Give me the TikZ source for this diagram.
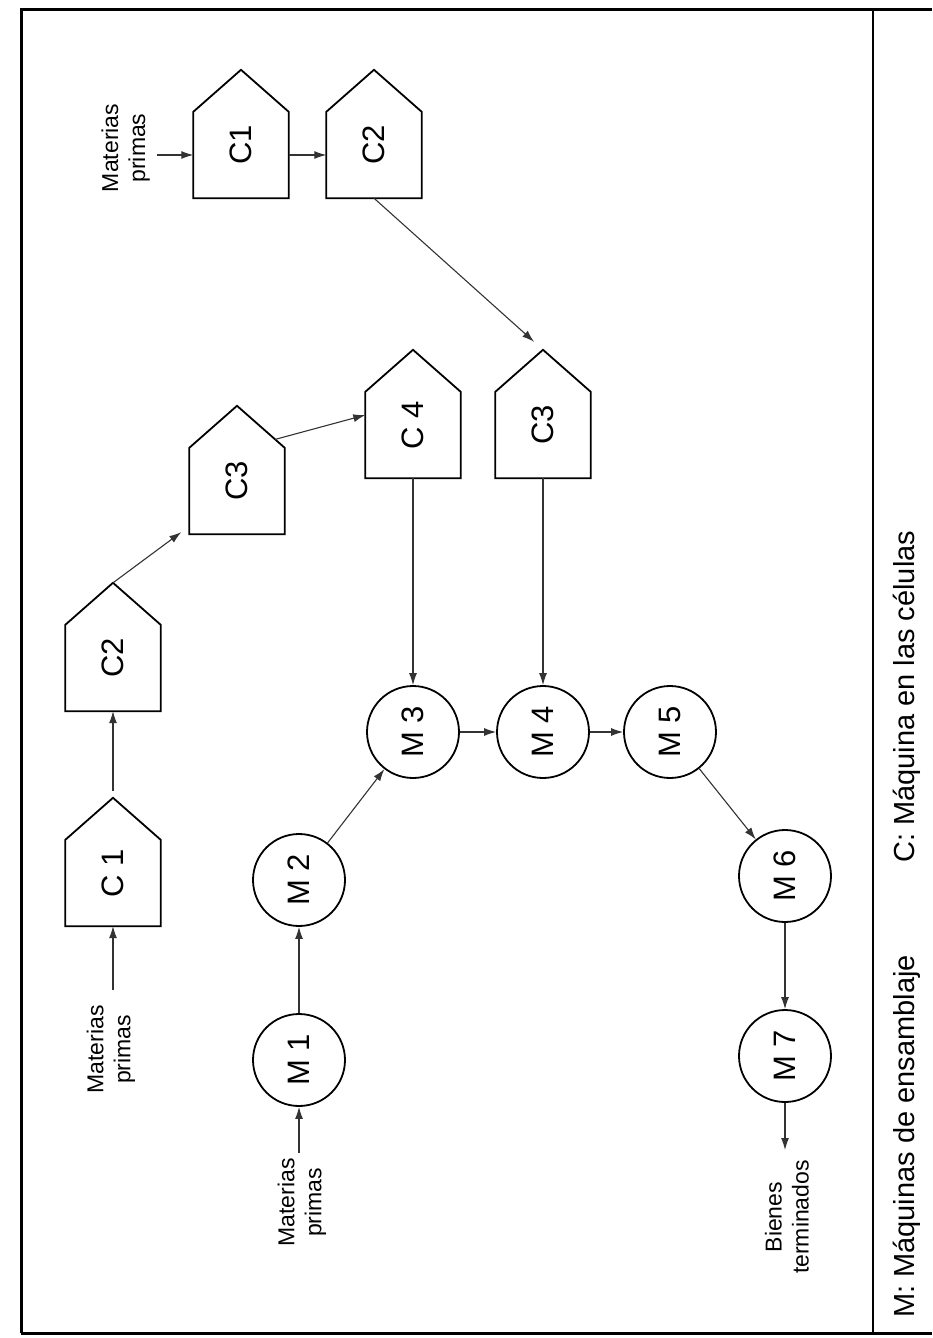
\documentclass[tikz,border=0pt]{standalone}
\usepackage{fontspec}
\setmainfont{Liberation Sans}
\usetikzlibrary{arrows.meta,calc}

\begin{document}
\begin{tikzpicture}[x=1pt, y=-1pt,
    cell/.style={rectangle, minimum width=95pt, minimum height=86pt, inner sep=0pt, text depth=20pt, font=\fontsize{31}{31}\selectfont},
    outline/.style={line width=1.8pt, line join=miter},
    mach/.style={circle, draw, line width=1.8pt, minimum size=92pt, inner sep=0pt, font=\fontsize{31}{31}\selectfont},
    lbl/.style={rotate=90, align=center, inner sep=0pt, font=\fontsize{23}{27}\selectfont},
    legend/.style={rotate=90, anchor=west, inner sep=0pt, font=\fontsize{29}{29}\selectfont},
    frame/.style={line width=3pt},
    arrow/.style={-{Latex[length=12pt,width=8pt]}, line width=1.1pt, draw=black!80}
]
\useasboundingbox (0,0) rectangle (932,1338);

% FRAME AND LEGEND COLUMN
\draw[frame] (21,1333) -- (21,10) -- (932,10);
\draw[frame] (21,1333) -- (932,1333);
\draw[line width=2.5pt] (873,10) -- (873,1333);

\node[legend] (leg-m) at (907,1318) {M: Máquinas de ensamblaje};
\node[legend] (leg-c) at (907,863) {C: Máquina en las células};

% CELL MACHINES
\node[cell] (c1t) at (241,155) {\rotatebox{90}{C1}};
\node[cell] (c2t) at (374,155) {\rotatebox{90}{C2}};
\node[cell] (c3r) at (543,435) {\rotatebox{90}{C3}};
\node[cell] (c4) at (413,435) {\rotatebox{90}{C 4}};
\node[cell] (c3m) at (237,491) {\rotatebox{90}{C3}};
\node[cell] (c2l) at (113,668) {\rotatebox{90}{C2}};
\node[cell] (c1l) at (113,883) {\rotatebox{90}{C 1}};

% pentagon outlines
\foreach \n in {c1t,c2t,c3r,c4,c3m,c2l,c1l} {
  \draw[outline] (\n.south west) -- (\n.north west) -- ([yshift=42pt]\n.north) coordinate (\n-tip)
    -- (\n.north east) -- (\n.south east) -- cycle;
}

% ASSEMBLY MACHINES
\node[mach] (m1) at (299,1060) {\rotatebox{90}{M 1}};
\node[mach] (m2) at (299,880) {\rotatebox{90}{M 2}};
\node[mach] (m3) at (413,732) {\rotatebox{90}{M 3}};
\node[mach] (m4) at (543,732) {\rotatebox{90}{M 4}};
\node[mach] (m5) at (670,732) {\rotatebox{90}{M 5}};
\node[mach] (m6) at (785,876) {\rotatebox{90}{M 6}};
\node[mach] (m7) at (785,1056) {\rotatebox{90}{M 7}};

% Inputs and output
\coordinate (in-top) at (157,155);
\coordinate (in-left) at (113,990);
\coordinate (in-bottom) at (299,1153);
\coordinate (out) at (785,1150);

\node[lbl, anchor=south] (raw-top) at (150,148) {Materias\\primas};
\node[lbl, anchor=east] (raw-left) at (111,1005) {Materias\\primas};
\node[lbl, anchor=east] (raw-bottom) at (302,1158) {Materias\\primas};
\node[lbl, anchor=east] (goods) at (787,1160) {Bienes\\terminados};

% Flow through the cells
\draw[arrow] (in-top) -- (c1t.west);
\draw[arrow] (c1t.east) -- (c2t.west);
\draw[arrow, shorten >=12pt] (c2t.south) -- (c3r-tip);
\draw[arrow] (in-left) -- (c1l.south);
\draw[arrow, shorten <=7pt] (c1l-tip) -- (c2l.south);
\draw[arrow, shorten >=10pt] (c2l-tip) -- ([yshift=8pt]c3m.south west);
\draw[arrow] ($(c3m-tip)!0.8!(c3m.north east)$) -- ([yshift=20pt]c4.west);
\draw[arrow] (c4.south) -- (m3);
\draw[arrow] (c3r.south) -- (m4);

% Flow through the assembly line
\draw[arrow] (in-bottom) -- (m1);
\draw[arrow] (m1) -- (m2);
\draw[arrow] (m2) -- (m3);
\draw[arrow] (m3) -- (m4);
\draw[arrow] (m4) -- (m5);
\draw[arrow] (m5) -- (m6);
\draw[arrow] (m6) -- (m7);
\draw[arrow] (m7) -- (out);

\end{tikzpicture}
\end{document}
